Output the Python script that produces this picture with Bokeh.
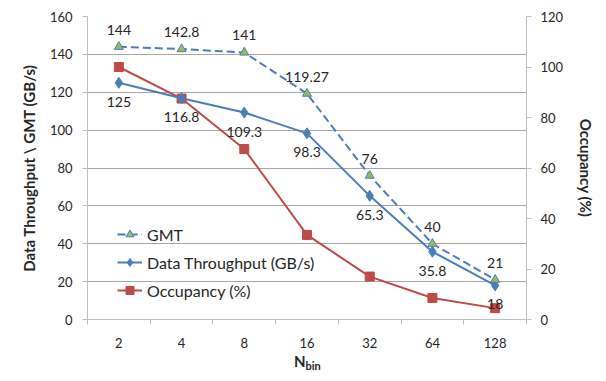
from bokeh.plotting import figure
from bokeh.models import (Range1d, LinearAxis, FixedTicker, ColumnDataSource,
                          LabelSet, Legend, LegendItem)
from bokeh.core.properties import value
from bokeh.layouts import column
from bokeh.embed import file_html
from bokeh.resources import INLINE

# ---- data ----
categories = ["2", "4", "8", "16", "32", "64", "128"]
gmt = [144, 142.8, 141, 119.27, 76, 40, 21]
gmt_labels = ["144", "142.8", "141", "119.27", "76", "40", "21"]
throughput = [125, 116.8, 109.3, 98.3, 65.3, 35.8, 18]
throughput_labels = ["125", "116.8", "109.3", "98.3", "65.3", "35.8", "18"]
occupancy = [100, 87.5, 67.5, 33.5, 17, 8.5, 4.5]
left_ticks = [0, 20, 40, 60, 80, 100, 120, 140, 160]
right_ticks = [0, 20, 40, 60, 80, 100, 120]
x_title_main = "N"
x_title_sub = "bin"

# ---- styles ----
BLUE = "#4A7EBB"
RED = "#BE4B48"
GREEN = "#9BBB59"
GRID = "#A6A6A6"
AXIS = "#BFBFBF"
TXT = "#262626"
FONT = "Lato"

xs = list(range(1, len(categories) + 1))

p = figure(width=606, height=350, x_range=Range1d(0.5, len(categories) + 0.5),
           y_range=Range1d(0, 160), output_backend="svg", toolbar_location=None,
           min_border_left=87, min_border_right=80, min_border_top=16,
           min_border_bottom=30)
p.extra_y_ranges = {"occ": Range1d(0, 120)}
p.outline_line_color = None
p.background_fill_color = "white"
p.border_fill_color = "white"

# x axis: labels at centres, ticks at boundaries
xa = p.xaxis[0]
xa.ticker = FixedTicker(ticks=xs, minor_ticks=[x - 0.5 for x in xs] + [xs[-1] + 0.5])
xa.major_label_overrides = {x: c for x, c in zip(xs, categories)}
xa.major_tick_out = 0
xa.major_tick_in = 0
xa.minor_tick_out = 5
xa.minor_tick_in = 0
xa.minor_tick_line_color = AXIS
xa.axis_line_color = AXIS
xa.major_label_standoff = 13
xa.major_label_text_font = FONT
xa.major_label_text_font_size = "13px"
xa.major_label_text_color = TXT

ya = p.yaxis[0]
ya.ticker = FixedTicker(ticks=left_ticks)
ya.axis_label = "Data Throughput \\ GMT (GB/s)"
ya.axis_label_text_font = FONT
ya.axis_label_text_font_style = "bold"
ya.axis_label_text_font_size = "15px"
ya.axis_label_text_color = TXT
ya.axis_label_standoff = 9
ya.major_tick_out = 5
ya.major_tick_in = 0
ya.minor_tick_line_color = None
ya.major_tick_line_color = AXIS
ya.axis_line_color = AXIS
ya.major_label_standoff = 10
ya.major_label_text_font = FONT
ya.major_label_text_font_size = "13px"
ya.major_label_text_color = TXT

ra = LinearAxis(y_range_name="occ", ticker=FixedTicker(ticks=right_ticks),
                axis_label="Occupancy (%)")
ra.axis_label_text_font = FONT
ra.axis_label_text_font_style = "bold"
ra.axis_label_text_font_size = "15px"
ra.axis_label_text_color = TXT
ra.axis_label_standoff = 11
ra.major_tick_out = 5
ra.major_tick_in = 0
ra.minor_tick_line_color = None
ra.major_tick_line_color = AXIS
ra.axis_line_color = AXIS
ra.major_label_standoff = 9
ra.major_label_text_font = FONT
ra.major_label_text_font_size = "13px"
ra.major_label_text_color = TXT
p.add_layout(ra, "right")

p.xgrid.visible = False
p.ygrid.ticker = FixedTicker(ticks=left_ticks)
p.ygrid.grid_line_color = GRID
p.ygrid.grid_line_width = 1

# ---- series ----
occ_line = p.line(xs, occupancy, line_color=RED, line_width=2, y_range_name="occ")
occ_pts = p.scatter(xs, occupancy, marker="square", size=9, fill_color=RED,
                    line_color=RED, y_range_name="occ")
tp_line = p.line(xs, throughput, line_color=BLUE, line_width=2)
tp_pts = p.scatter(xs, throughput, marker="diamond", size=11, fill_color=BLUE,
                   line_color=BLUE)
gmt_line = p.line(xs, gmt, line_color=BLUE, line_width=2, line_dash="8 4")
gmt_pts = p.scatter(xs, gmt, marker="triangle", size=9, fill_color=GREEN,
                    line_color=BLUE, line_width=1)

# ---- data labels ----
src_g = ColumnDataSource(dict(x=xs, y=gmt, t=gmt_labels))
src_t = ColumnDataSource(dict(x=xs, y=throughput, t=throughput_labels))
p.add_layout(LabelSet(x="x", y="y", text="t", source=src_g, y_offset=17,
                      text_align="center", text_baseline="middle",
                      text_font=value(FONT), text_font_size=value("14px"),
                      text_color=TXT))
p.add_layout(LabelSet(x="x", y="y", text="t", source=src_t, y_offset=-19,
                      text_align="center", text_baseline="middle",
                      text_font=value(FONT), text_font_size=value("14px"),
                      text_color=TXT))

# ---- legend ----
legend = Legend(items=[
    LegendItem(label="GMT", renderers=[gmt_line, gmt_pts]),
    LegendItem(label="Data Throughput (GB/s)", renderers=[tp_line, tp_pts]),
    LegendItem(label="Occupancy (%)", renderers=[occ_line, occ_pts]),
], location=(30, 19), orientation="vertical")
legend.label_text_font = FONT
legend.label_text_font_size = "16px"
legend.label_text_color = TXT
legend.label_height = 20
legend.glyph_height = 20
legend.glyph_width = 25
legend.label_standoff = 5
legend.spacing = 8
legend.padding = 0
legend.margin = 0
legend.background_fill_alpha = 0
legend.border_line_alpha = 0
p.add_layout(legend)

# ---- x-axis title strip (N with subscript "bin") ----
t = figure(width=606, height=31, x_range=Range1d(0, 606), y_range=Range1d(0, 31),
           output_backend="svg", toolbar_location=None, min_border=0,
           x_axis_type=None, y_axis_type=None)
t.outline_line_color = None
t.xgrid.visible = False
t.ygrid.visible = False
t.border_fill_color = "white"
t.background_fill_color = "white"
t.text(x=[301], y=[21], text=[x_title_main], text_align="right",
       text_baseline="middle", text_font=value(FONT), text_font_style="bold",
       text_font_size="15px", text_color=TXT)
t.text(x=[301], y=[16.5], text=[x_title_sub], text_align="left",
       text_baseline="middle", text_font=value(FONT), text_font_style="bold",
       text_font_size="11px", text_color=TXT)

layout = column(p, t, spacing=0)
open("out.html", "w").write(file_html(layout, INLINE))
